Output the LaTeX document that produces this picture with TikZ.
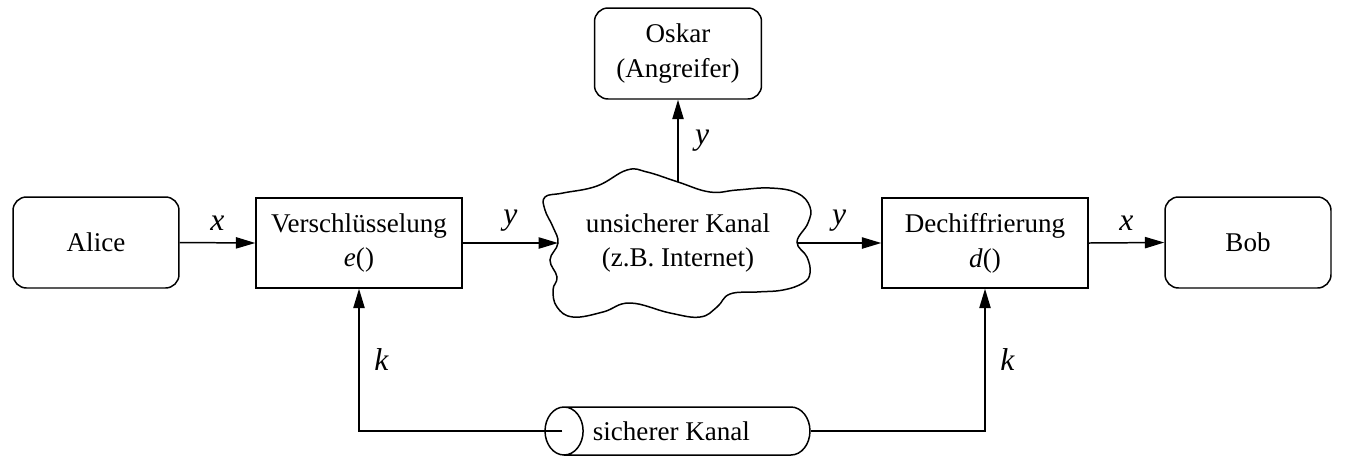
\documentclass[tikz,border=0pt]{standalone}
\usepackage{fontspec}
\setmainfont{Liberation Serif}
\usepackage{tikz}
\usetikzlibrary{arrows.meta,positioning,calc,shapes.geometric}

\begin{document}
\begin{tikzpicture}[x=0.02cm,y=-0.02cm,
  font=\fontsize{15.4}{19.8}\selectfont,
  arr/.style={-{Triangle[length=11pt,width=6.4pt]},line width=0.85pt},
  endbox/.style={draw,line width=0.85pt,rounded corners=0.27cm,align=center,minimum width=3.32cm,minimum height=1.82cm,inner sep=0pt},
  procbox/.style={draw,line width=0.85pt,align=center,minimum width=4.12cm,minimum height=1.8cm,inner sep=0pt},
  lbl/.style={font=\fontsize{18}{20}\selectfont\itshape}]
\useasboundingbox (0,0) rectangle (1345,468);
% endpoints and processing steps
\node[endbox] (alice) at (96,242.5) {Alice};
\node[procbox] (enc) at (359,243) {Verschlüsselung\\\textit{e}()};
\node[procbox] (dec) at (985,243) {Dechiffrierung\\\textit{d}()};
\node[endbox] (bob) at (1248,242.5) {Bob};
\node[endbox,minimum width=3.34cm] (oskar) at (678,53.5) {Oskar\\(Angreifer)};
% insecure channel (cloud)
\draw[line width=0.85pt] plot[smooth cycle,tension=0.7] coordinates {
  (545,197) (563,193) (597,186) (627,170) (647,172) (678,182) (710,192)
  (737,190) (770,188) (797,193) (810,207) (808,223) (797,242) (807,257)
  (810,273) (803,283) (783,290) (757,292) (730,294) (717,307) (700,317)
  (670,313) (630,303) (603,312) (573,317) (557,307) (553,290) (557,277)
  (550,260) (558,243) (553,227) (545,210)};
\node[align=center] (net) at (678,243) {unsicherer Kanal\\(z.B. Internet)};
\coordinate (netw) at (558,243);
\coordinate (nete) at (797,243);
\coordinate (nett) at (678,182);
% secure channel
\node[draw,line width=0.85pt,cylinder,shape border rotate=180,aspect=2,
  minimum height=5.3cm,minimum width=0.96cm,inner sep=0pt,anchor=shape center] (sec) at (677.5,431) {sicherer Kanal\kern0.64cm};
\coordinate (secl) at ($(sec.west)+(18,0)$);
% connectors
\draw[arr] (alice.east) -- (enc.west) node[lbl,midway,above=3pt] {x};
\draw[arr] (enc.east) -- (netw) node[lbl,midway,above=3pt] {y};
\draw[arr] (nete) -- (dec.west) node[lbl,midway,above=3pt] {y};
\draw[arr] (dec.east) -- (bob.west) node[lbl,midway,above=3pt] {x};
\draw[arr] (nett) -- (oskar.south) node[lbl,midway,right=6pt] {y};
\draw[arr] (secl) -| (enc.south) node[lbl,pos=0.75,right=5pt] {k};
\draw[arr] (sec.east) -| (dec.south) node[lbl,pos=0.75,right=5pt] {k};
\end{tikzpicture}
\end{document}
